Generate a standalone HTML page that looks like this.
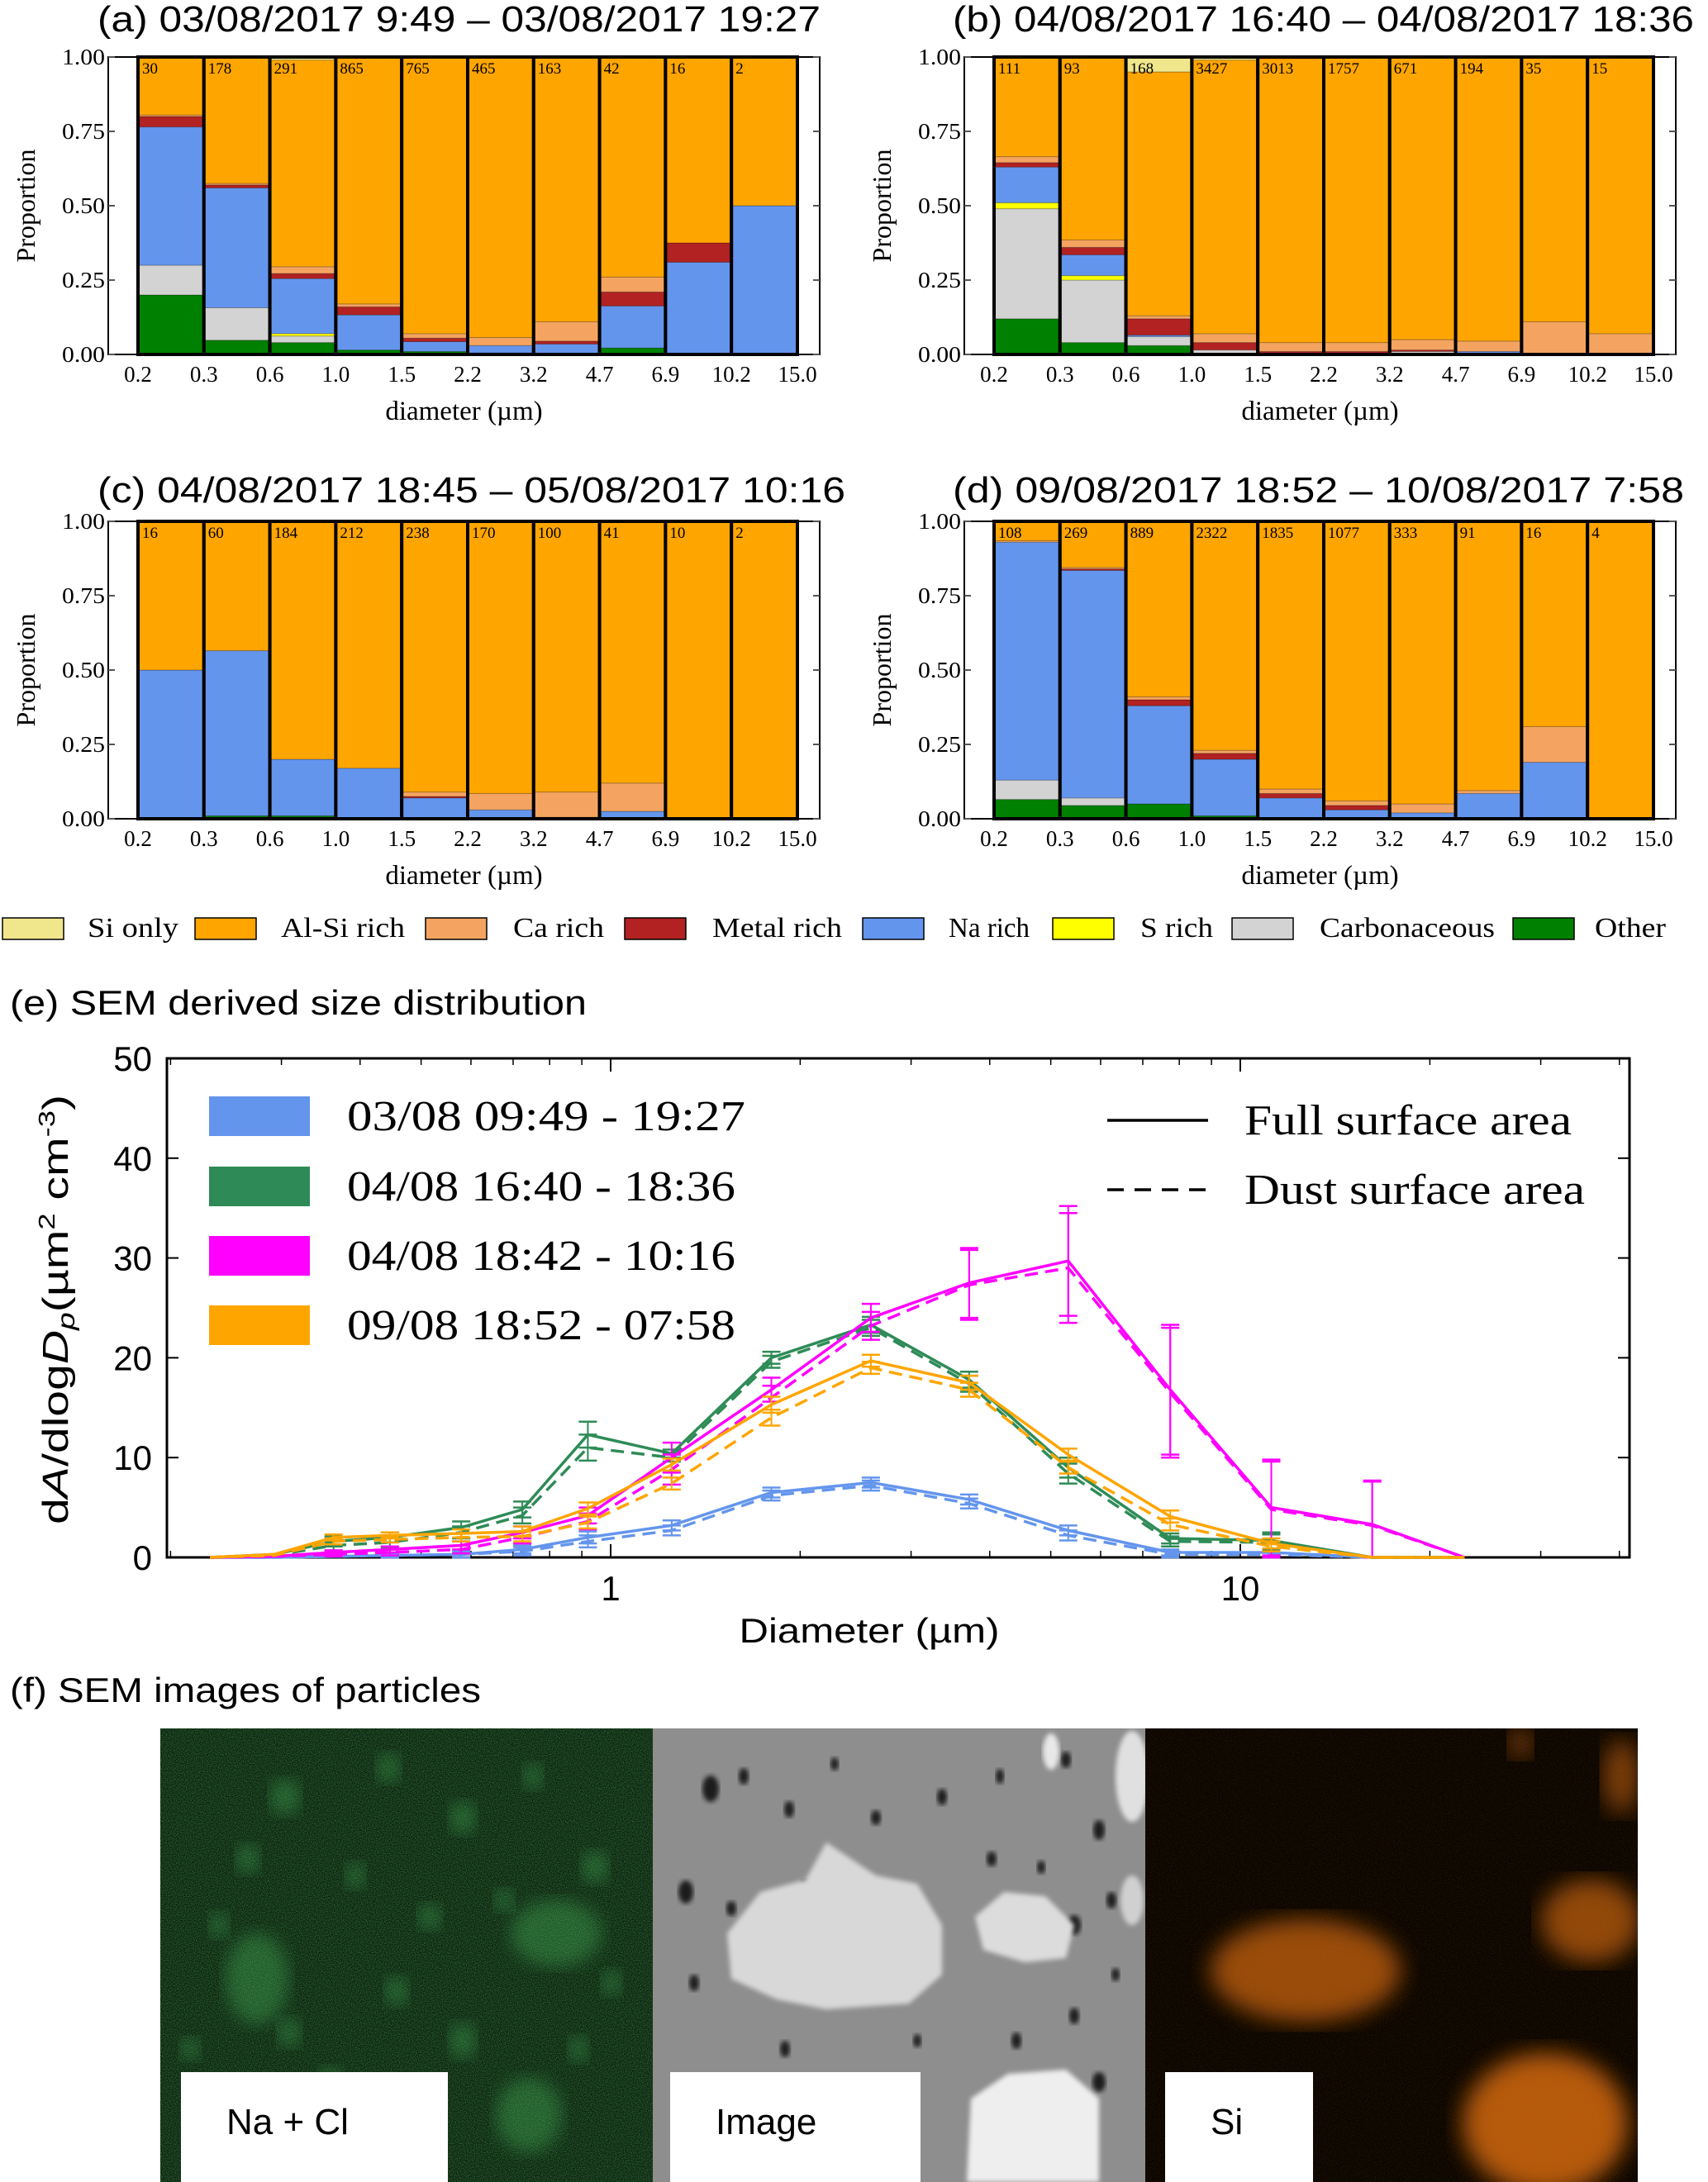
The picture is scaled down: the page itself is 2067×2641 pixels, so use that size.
<!DOCTYPE html>
<html><head><meta charset="utf-8"><style>
html,body{margin:0;padding:0;background:#fff;}
svg{display:block;}
.serif{font-family:"Liberation Serif","DejaVu Serif",serif;}
.sans{font-family:"Liberation Sans","DejaVu Sans",sans-serif;}
</style></head><body>
<svg id="fig" width="2067" height="2641" viewBox="0 0 2067 2641" xmlns="http://www.w3.org/2000/svg">
<defs>
<filter id="blur8"><feGaussianBlur stdDeviation="10"/></filter>
<filter id="blur14"><feGaussianBlur stdDeviation="14"/></filter>
<filter id="blur3"><feGaussianBlur stdDeviation="3"/></filter>
<filter id="noiseG" x="0" y="0" width="100%" height="100%"><feTurbulence type="fractalNoise" baseFrequency="0.9" numOctaves="1" seed="3"/><feColorMatrix type="matrix" values="0 0 0 0 0.1  0 0 0 0 0.55  0 0 0 0 0.15  0 0 0 1.1 -0.4"/></filter>
<filter id="noiseO" x="0" y="0" width="100%" height="100%"><feTurbulence type="fractalNoise" baseFrequency="0.9" numOctaves="1" seed="5"/><feColorMatrix type="matrix" values="0 0 0 0 0.5  0 0 0 0 0.25  0 0 0 0 0.02  0 0 0 0.6 -0.3"/></filter>
<clipPath id="clipF1"><rect x="194" y="2092" width="596" height="549"/></clipPath>
<clipPath id="clipF2"><rect x="790" y="2092" width="596" height="549"/></clipPath>
<clipPath id="clipF3"><rect x="1386" y="2092" width="596" height="549"/></clipPath>
</defs>
<g id="bars-layer"></g>
<g id="legend-layer"></g>
<g id="line-layer"></g>
<g id="sem-layer"></g>
</svg>
<script>
// ---- composition data (per panel, per class, 10 bins) ----
const binEdges = ["0.2","0.3","0.6","1.0","1.5","2.2","3.2","4.7","6.9","10.2","15.0"];
const classNames = ["Other","Carbonaceous","S rich","Na rich","Metal rich","Ca rich","Al-Si rich","Si only"];
const classColors = ["#008000","#d3d3d3","#ffff00","#6495ed","#b22222","#f4a460","#ffa500","#f0e68c"];

const aCounts = [30,178,291,865,765,465,163,42,16,2];
const aOther = [0.20,0.048,0.04,0.015,0.01,0.005,0,0.022,0,0];
const aCarb  = [0.10,0.109,0.022,0,0,0,0,0,0,0];
const aS     = [0,0,0.008,0,0,0,0,0,0,0];
const aNa    = [0.465,0.403,0.185,0.118,0.033,0.025,0.035,0.141,0.31,0.50];
const aMetal = [0.035,0.01,0.017,0.027,0.012,0,0.01,0.047,0.065,0];
const aCa    = [0.005,0.005,0.023,0.01,0.015,0.027,0.065,0.05,0,0];
const aAlSi  = [0.195,0.425,0.695,0.83,0.93,0.943,0.89,0.74,0.625,0.50];
const aSi    = [0,0,0.01,0,0,0,0,0,0,0];

const bCounts = [111,93,168,3427,3013,1757,671,194,35,15];
const bOther = [0.12,0.04,0.03,0,0,0,0,0,0,0];
const bCarb  = [0.37,0.21,0.03,0.015,0,0,0.01,0,0,0];
const bS     = [0.02,0.015,0,0,0,0,0,0,0,0];
const bNa    = [0.12,0.07,0.005,0,0,0,0,0.01,0,0];
const bMetal = [0.015,0.025,0.055,0.025,0.01,0.01,0.005,0,0,0];
const bCa    = [0.02,0.025,0.01,0.03,0.03,0.03,0.035,0.035,0.11,0.07];
const bAlSi  = [0.335,0.615,0.82,0.92,0.955,0.96,0.95,0.955,0.89,0.93];
const bSi    = [0,0,0.05,0.01,0.005,0,0,0,0,0];

const cCounts = [16,60,184,212,238,170,100,41,10,2];
const cOther = [0,0.01,0.01,0,0,0,0,0,0,0];
const cCarb  = [0,0,0,0,0,0,0,0,0,0];
const cS     = [0,0,0,0,0,0,0,0,0,0];
const cNa    = [0.50,0.555,0.19,0.17,0.07,0.03,0.005,0.025,0,0];
const cMetal = [0,0,0,0,0.005,0,0,0,0,0];
const cCa    = [0,0,0,0,0.015,0.055,0.085,0.095,0,0];
const cAlSi  = [0.50,0.435,0.80,0.83,0.91,0.915,0.91,0.88,1,1];
const cSi    = [0,0,0,0,0,0,0,0,0,0];

const dCounts = [108,269,889,2322,1835,1077,333,91,16,4];
const dOther = [0.065,0.045,0.05,0.01,0,0,0,0,0,0];
const dCarb  = [0.065,0.025,0,0,0,0,0,0,0,0];
const dS     = [0,0,0,0,0,0,0,0,0,0];
const dNa    = [0.80,0.765,0.33,0.19,0.07,0.03,0.02,0.085,0.19,0];
const dMetal = [0,0.005,0.02,0.02,0.015,0.015,0,0,0,0];
const dCa    = [0.005,0.005,0.01,0.01,0.015,0.015,0.03,0.01,0.12,0];
const dAlSi  = [0.065,0.155,0.59,0.77,0.90,0.94,0.95,0.905,0.69,1];
const dSi    = [0,0,0,0,0,0,0,0,0,0];

// ---- size distribution data ----
const diam = [0.231,0.292,0.363,0.446,0.579,0.724,0.92,1.25,1.80,2.59,3.71,5.33,7.74,11.2,16.2,22.7];
const blueFull  = [0,0,0.1,0.2,0.3,0.8,2.0,3.2,6.5,7.5,5.8,2.7,0.5,0.5,0,0];
const blueDust  = [0,0,0.1,0.2,0.3,0.6,1.6,2.7,6.2,7.2,5.4,2.2,0.3,0.3,0,0];
const blueErr   = [0,0,0,0.2,0.3,0.4,0.6,0.5,0.5,0.5,0.5,0.5,0.3,0.3,0,0];
const greenFull = [0,0.3,1.6,2.0,3.0,4.8,12.3,10.4,20.0,23.3,17.8,9.0,1.9,1.7,0,0];
const greenDust = [0,0.2,1.2,1.5,2.5,4.2,11.0,10.0,19.6,23.0,17.4,8.4,1.6,1.5,0,0];
const greenErr  = [0,0,0.5,0.5,0.6,0.8,1.3,0.4,0.6,0.8,0.8,1.0,0.5,0.8,0,0];
const magFull   = [0,0.1,0.5,0.8,1.2,2.5,4.2,10.0,16.8,24.0,27.5,29.7,16.8,5.0,3.3,0];
const magDust   = [0,0.1,0.3,0.5,0.8,2.0,3.6,8.8,16.0,23.2,27.3,29.0,16.5,4.8,3.2,0];
const magErr    = [0,0,0.2,0.3,0.4,0.6,0.8,1.5,1.2,1.4,3.5,5.5,6.5,4.8,4.4,0];
const orangeFull= [0,0.3,2.0,2.2,2.4,2.6,4.9,9.3,15.3,19.7,17.5,10.3,4.1,1.4,0,0];
const orangeDust= [0,0.2,1.6,1.8,2.0,2.1,3.5,7.4,14.0,19.0,16.8,9.0,3.3,1.1,0,0];
const orangeErr = [0,0,0.3,0.3,0.4,0.5,0.6,0.6,0.8,0.6,0.7,0.6,0.6,0.5,0,0];
const yTicks = [0,10,20,30,40,50];
const xMajorTicks = [1,10];
const xMinorTicks = [0.2,0.3,0.4,0.5,0.6,0.7,0.8,0.9,2,3,4,5,6,7,8,9,20,30,40];
const seriesLabels = ["03/08  09:49 - 19:27","04/08 16:40 - 18:36","04/08 18:42 - 10:16","09/08 18:52 - 07:58"];
const seriesColors = ["#6495ed","#2e8b57","#ff00ff","#ffa500"];

const NS = "http://www.w3.org/2000/svg";
function mk(parent, tag, attrs, text){
  const e = document.createElementNS(NS, tag);
  for (const k in attrs) e.setAttribute(k, attrs[k]);
  if (text !== undefined) e.textContent = text;
  parent.appendChild(e);
  return e;
}

// ---- composition panels ----
const barsLayer = document.getElementById('bars-layer');
const panels = [
  {id:'a', title:"(a) 03/08/2017 9:49 \u2013 03/08/2017 19:27", L:131, T:69, tx:118, ty:38, tw:875, counts:aCounts, cls:[aOther,aCarb,aS,aNa,aMetal,aCa,aAlSi,aSi]},
  {id:'b', title:"(b) 04/08/2017 16:40 \u2013 04/08/2017 18:36", L:1167, T:69, tx:1153, ty:38, tw:897, counts:bCounts, cls:[bOther,bCarb,bS,bNa,bMetal,bCa,bAlSi,bSi]},
  {id:'c', title:"(c) 04/08/2017 18:45 \u2013 05/08/2017 10:16", L:131, T:631, tx:118, ty:608, tw:905, counts:cCounts, cls:[cOther,cCarb,cS,cNa,cMetal,cCa,cAlSi,cSi]},
  {id:'d', title:"(d) 09/08/2017 18:52 \u2013 10/08/2017 7:58", L:1167, T:631, tx:1153, ty:608, tw:885, counts:dCounts, cls:[dOther,dCarb,dS,dNa,dMetal,dCa,dAlSi,dSi]}
];
const PW = 861, PH = 360, barOff = 36, barW = 79.8;
panels.forEach(p => {
  const g = mk(barsLayer,'g',{});
  
  
  const yS = v => p.T + PH - v*PH;
  const xS = i => p.L + barOff + i*barW;
  const t = mk(g,'text',{x:p.tx,y:p.ty,'font-size':44,class:'sans',textLength:p.tw,lengthAdjust:'spacingAndGlyphs'},p.title);
  
  
  for (let i=0;i<10;i++){
    const bg = mk(g,'g',{});
    
    
    let acc = 0;
    for (let c=0;c<8;c++){
      const v = p.cls[c][i];
      if (v<=0) continue;
      const r = mk(bg,'rect',{x:xS(i),y:yS(acc+v),width:barW,height:v*PH,fill:classColors[c],stroke:'rgba(0,0,0,0.25)','stroke-width':1});
      
      
      acc += v;
    }
    mk(bg,'rect',{x:xS(i),y:p.T,width:barW,height:PH,fill:'none',stroke:'#000','stroke-width':4});
    const ct = mk(g,'text',{x:xS(i)+5,y:p.T+20,'font-size':19,class:'serif'},String(p.counts[i]));
    
    
  }
  const ax = mk(g,'rect',{x:p.L,y:p.T,width:PW,height:PH,fill:'none',stroke:'#000','stroke-width':2});
  
  
  [0,0.25,0.5,0.75,1].forEach(v=>{
    mk(g,'line',{x1:p.L,x2:p.L+8,y1:yS(v),y2:yS(v),stroke:'#555','stroke-width':2});
    mk(g,'line',{x1:p.L+PW-8,x2:p.L+PW,y1:yS(v),y2:yS(v),stroke:'#555','stroke-width':2});
    const tl = mk(g,'text',{x:p.L-4,y:yS(v)+9,'font-size':27,'text-anchor':'end',class:'serif',textLength:52,lengthAdjust:'spacingAndGlyphs'},v.toFixed(2));
    
    
  });
  binEdges.forEach((lab,i)=>{
    const tl = mk(g,'text',{x:xS(i),y:p.T+PH+33,'font-size':27,'text-anchor':'middle',class:'serif'},lab);
    
    
  });
  const xl = mk(g,'text',{x:p.L+PW/2,y:p.T+PH+79,'font-size':33,'text-anchor':'middle',class:'serif'},'diameter (\u00b5m)');
  
  
  const yl = mk(g,'text',{x:0,y:0,'font-size':32,'text-anchor':'middle',class:'serif',transform:`translate(${p.L-89},${p.T+PH/2}) rotate(-90)`},'Proportion');
  
  
});

// ---- composition legend ----
const legLayer = document.getElementById('legend-layer');
const legOrder = [7,6,5,4,3,2,1,0];
const legPatchX = [3,236,515,756,1044,1274,1491,1831];
const legTextX  = [106,340,621,862,1148,1380,1597,1930];
const legTextW  = [110,150,110,157,98,88,212,86];
legOrder.forEach((c,k)=>{
  const g = mk(legLayer,'g',{});
  
  
  mk(g,'rect',{x:legPatchX[k],y:1111,width:74,height:26,fill:classColors[c],stroke:'#000','stroke-width':1.5});
  mk(g,'text',{x:legTextX[k],y:1134,'font-size':34,class:'serif',textLength:legTextW[k],lengthAdjust:'spacingAndGlyphs'},classNames[c]);
});

// ---- size distribution chart ----
const lineLayer = document.getElementById('line-layer');
const EL = 202, ER = 1972, ET = 1281, EB = 1885;
const X1 = 739, DEC = 762;
const xE = d => X1 + Math.log10(d)*DEC;
const yE = v => EB - v/50*(EB-ET);
const et = mk(lineLayer,'text',{x:12,y:1228,'font-size':42,class:'sans',textLength:698,lengthAdjust:'spacingAndGlyphs'},'(e) SEM derived size distribution');


const frame = mk(lineLayer,'rect',{x:EL,y:ET,width:ER-EL,height:EB-ET,fill:'none',stroke:'#000','stroke-width':3});


yTicks.forEach(v=>{
  mk(lineLayer,'line',{x1:EL,x2:EL+14,y1:yE(v),y2:yE(v),stroke:'#000','stroke-width':2});
  mk(lineLayer,'line',{x1:ER-14,x2:ER,y1:yE(v),y2:yE(v),stroke:'#000','stroke-width':2});
  const tl = mk(lineLayer,'text',{x:EL-18,y:yE(v)+15,'font-size':42,'text-anchor':'end',class:'sans'},String(v));
  
  
});
xMajorTicks.forEach(d=>{
  mk(lineLayer,'line',{x1:xE(d),x2:xE(d),y1:EB,y2:EB-16,stroke:'#000','stroke-width':2});
  mk(lineLayer,'line',{x1:xE(d),x2:xE(d),y1:ET,y2:ET+16,stroke:'#000','stroke-width':2});
  const tl = mk(lineLayer,'text',{x:xE(d),y:EB+52,'font-size':42,'text-anchor':'middle',class:'sans'},String(d));
  
  
});
xMinorTicks.forEach(d=>{
  mk(lineLayer,'line',{x1:xE(d),x2:xE(d),y1:EB,y2:EB-8,stroke:'#000','stroke-width':1.5});
  mk(lineLayer,'line',{x1:xE(d),x2:xE(d),y1:ET,y2:ET+8,stroke:'#000','stroke-width':1.5});
});
const exl = mk(lineLayer,'text',{x:1052,y:1988,'font-size':42,'text-anchor':'middle',class:'sans',textLength:315,lengthAdjust:'spacingAndGlyphs'},'Diameter (\u00b5m)');


const eyl = mk(lineLayer,'text',{x:0,y:0,'font-size':44,'text-anchor':'middle',class:'sans',transform:'translate(82,1585) rotate(-90)',textLength:520,lengthAdjust:'spacingAndGlyphs'});


mk(eyl,'tspan',{},'d');
mk(eyl,'tspan',{'font-style':'italic'},'A');
mk(eyl,'tspan',{},'/dlog');
mk(eyl,'tspan',{'font-style':'italic'},'D');
mk(eyl,'tspan',{'font-style':'italic','font-size':30,dy:8},'p');
mk(eyl,'tspan',{dy:-8},'(\u00b5m');
mk(eyl,'tspan',{'font-size':28,dy:-16},'2');
mk(eyl,'tspan',{dy:16},' cm');
mk(eyl,'tspan',{'font-size':28,dy:-16},'-3');
mk(eyl,'tspan',{dy:16},')');

const series = [
  {full:blueFull,dust:blueDust,err:blueErr},
  {full:greenFull,dust:greenDust,err:greenErr},
  {full:magFull,dust:magDust,err:magErr},
  {full:orangeFull,dust:orangeDust,err:orangeErr}
];
series.forEach((s,k)=>{
  const g = mk(lineLayer,'g',{});
  
  
  const col = seriesColors[k];
  const ptsF = diam.map((d,i)=>xE(d)+','+yE(s.full[i])).join(' ');
  const ptsD = diam.map((d,i)=>xE(d)+','+yE(s.dust[i])).join(' ');
  const lf = mk(g,'polyline',{points:ptsF,fill:'none',stroke:col,'stroke-width':3.5});
  
  
  const ld = mk(g,'polyline',{points:ptsD,fill:'none',stroke:col,'stroke-width':3.5,'stroke-dasharray':'16 9'});
  
  
  diam.forEach((d,i)=>{
    if (s.err[i]<=0) return;
    [s.full[i], s.dust[i]].forEach(v=>{
      const lo = Math.max(0, v - s.err[i]), hi = v + s.err[i];
      const x = xE(d);
      mk(g,'line',{x1:x,x2:x,y1:yE(lo),y2:yE(hi),stroke:col,'stroke-width':2});
      mk(g,'line',{x1:x-11,x2:x+11,y1:yE(lo),y2:yE(lo),stroke:col,'stroke-width':2.5});
      mk(g,'line',{x1:x-11,x2:x+11,y1:yE(hi),y2:yE(hi),stroke:col,'stroke-width':2.5});
    });
  });
});
// series legend
const legRowY = [1351,1436,1520,1604];
seriesLabels.forEach((lab,k)=>{
  const g = mk(lineLayer,'g',{});
  
  
  mk(g,'rect',{x:253,y:legRowY[k]-24,width:122,height:48,fill:seriesColors[k]});
  mk(g,'text',{x:420,y:legRowY[k]+17,'font-size':52,class:'serif',textLength:k===0?482:470,lengthAdjust:'spacingAndGlyphs'},lab);
});
const styleLabels = ["Full surface area","Dust surface area"];
styleLabels.forEach((lab,k)=>{
  const g = mk(lineLayer,'g',{});
  
  
  const y = 1356 + k*84;
  const ln = mk(g,'line',{x1:1340,x2:1462,y1:y,y2:y,stroke:'#000','stroke-width':3.5});
  if (k===1) ln.setAttribute('stroke-dasharray','20 13');
  mk(g,'text',{x:1506,y:y+17,'font-size':52,class:'serif',textLength:k===0?396:412,lengthAdjust:'spacingAndGlyphs'},lab);
});

// ---- SEM images ----
const sem = document.getElementById('sem-layer');
const ft = mk(sem,'text',{x:12,y:2060,'font-size':42,class:'sans',textLength:570,lengthAdjust:'spacingAndGlyphs'},'(f) SEM images of particles');


const g1 = mk(sem,'g',{'clip-path':'url(#clipF1)'});


mk(g1,'rect',{x:194,y:2092,width:596,height:549,fill:'#0b1f0d'});
const gBlobs = [[673,2340,55,40],[311,2395,38,55],[345,2175,18,22],[470,2140,14,18],[560,2200,16,20],[645,2150,12,16],[300,2250,14,18],[430,2270,12,16],[720,2260,16,20],[265,2330,12,16],[520,2320,14,16],[610,2300,12,14],[480,2410,14,18],[740,2400,12,16],[560,2470,16,22],[400,2520,14,18],[640,2560,40,45],[230,2480,12,14],[700,2480,12,16],[350,2460,14,18]];
gBlobs.forEach(b=>mk(g1,'ellipse',{cx:b[0],cy:b[1],rx:b[2],ry:b[3],fill:'#3a9a4c',opacity:0.45,filter:'url(#blur8)'}));
mk(g1,'rect',{x:194,y:2092,width:596,height:549,filter:'url(#noiseG)'});
const g2 = mk(sem,'g',{'clip-path':'url(#clipF2)'});


mk(g2,'rect',{x:790,y:2092,width:596,height:549,fill:'#8e8e8e'});
const pores = [[860,2165,10,16],[900,2150,6,10],[955,2190,6,10],[1010,2135,5,8],[1060,2200,6,9],[1140,2175,6,10],[1210,2150,5,9],[1290,2130,6,10],[1330,2215,7,12],[1260,2260,5,8],[830,2290,9,14],[885,2310,6,9],[975,2285,6,10],[1055,2320,5,8],[1200,2250,6,9],[1345,2300,6,10],[1300,2330,8,12],[840,2400,6,10],[1230,2470,6,10],[1300,2440,6,10],[1330,2520,8,12],[820,2520,5,8],[950,2480,6,10],[1110,2470,5,8],[880,2560,6,10],[1010,2600,5,8],[1350,2390,5,8]];
pores.forEach(b=>mk(g2,'ellipse',{cx:b[0],cy:b[1],rx:b[2],ry:b[3],fill:'#1e1e1e',filter:'url(#blur3)'}));
mk(g2,'path',{d:'M880,2340 L920,2290 L975,2275 L1000,2230 L1060,2270 L1110,2280 L1140,2330 L1140,2390 L1100,2425 L1000,2432 L940,2420 L885,2395 Z',fill:'#d8d8d8',filter:'url(#blur3)'});
mk(g2,'path',{d:'M1180,2320 L1215,2290 L1265,2295 L1300,2330 L1290,2370 L1240,2375 L1190,2360 Z',fill:'#dcdcdc',filter:'url(#blur3)'});
mk(g2,'path',{d:'M1175,2540 L1220,2510 L1290,2505 L1330,2540 L1330,2641 L1170,2641 Z',fill:'#eeeeee',filter:'url(#blur3)'});
mk(g2,'ellipse',{cx:1370,cy:2150,rx:20,ry:55,fill:'#e0e0e0',filter:'url(#blur3)'});
mk(g2,'ellipse',{cx:1370,cy:2300,rx:14,ry:30,fill:'#d0d0d0',filter:'url(#blur3)'});
mk(g2,'ellipse',{cx:1272,cy:2120,rx:10,ry:22,fill:'#e8e8e8',filter:'url(#blur3)'});
const g3 = mk(sem,'g',{'clip-path':'url(#clipF3)'});


mk(g3,'rect',{x:1386,y:2092,width:596,height:549,fill:'#0c0500'});
mk(g3,'rect',{x:1386,y:2092,width:596,height:549,filter:'url(#noiseO)'});
const oBlobs = [[1580,2385,115,62,0.75],[1870,2570,100,85,0.9],[1925,2325,60,50,0.7],[1962,2150,22,45,0.6],[1840,2110,14,18,0.6]];
oBlobs.forEach(b=>mk(g3,'ellipse',{cx:b[0],cy:b[1],rx:b[2],ry:b[3],fill:'#c8640f',opacity:b[4],filter:'url(#blur14)'}));
const boxes = [[219,323,'Na + Cl'],[811,303,'Image'],[1410,179,'Si']];
boxes.forEach(b=>{
  const g = mk(sem,'g',{});
  
  
  mk(g,'rect',{x:b[0],y:2508,width:b[1],height:133,fill:'#fff'});
  mk(g,'text',{x:b[0]+55,y:2583,'font-size':44,class:'sans'},b[2]);
});
</script>
</body></html>
